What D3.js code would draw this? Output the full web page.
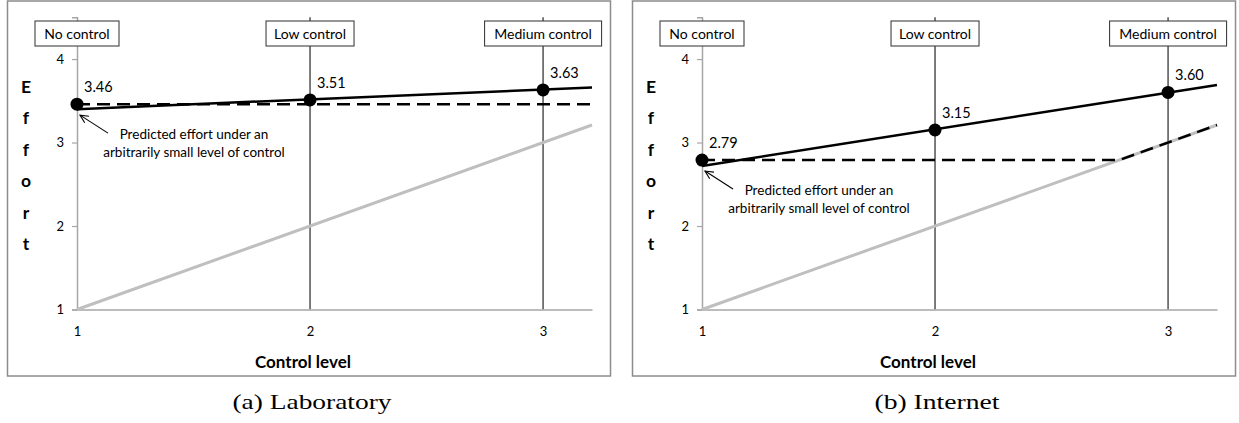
<!DOCTYPE html>
<html>
<head>
<meta charset="utf-8">
<script src="https://cdn.jsdelivr.net/npm/d3@7/dist/d3.min.js"></script>
<style>
  html, body { margin: 0; padding: 0; background: #fff; }
  svg { display: block; }
  .sans { font-family: Lato, "Open Sans", "Noto Sans", sans-serif; }
</style>
</head>
<body>
<svg id="chart" width="1239" height="423"></svg>
<script>
// Control levels on the x axis and the names shown above each level
const controlLevels = [1, 2, 3];
const levelNames = ["No control", "Low control", "Medium control"];
const xTicks = [1, 2, 3];
const yTicks = [1, 2, 3, 4];

// Mean effort at each control level
const labMeans = [3.46, 3.51, 3.63];
const netMeans = [2.79, 3.15, 3.60];

// Fitted effort line, at x = 1 and at the right end of the axis
const labFit = [3.40, 3.66];
const netFit = [2.72, 3.69];

// Axis extents
const xDomain = [1, 3.21];
const yDomain = [1, 4.5];

const captions = ["(a) Laboratory", "(b) Internet"];
const captionWidths = [159, 125];
const yTitle = "Effort";
const xTitle = "Control level";
const noteLines = ["Predicted effort under an", "arbitrarily small level of control"];

const svg = d3.select("#chart");

function drawPanel(idx, offsetX, means, fit) {
  const g = svg.append("g").attr("transform", `translate(${offsetX},0)`);

  // frame
  g.append("rect")
    .attr("x", 7.5).attr("y", 1).attr("width", 603).attr("height", 375)
    .attr("fill", "#fff").attr("stroke", "#8c8c8c").attr("stroke-width", 1.5);

  const x = d3.scaleLinear().domain(xDomain).range([77, 592]);
  const y = d3.scaleLinear().domain(yDomain).range([309.5, 17.3]);

  // guide lines at the control levels 2 and 3
  g.selectAll("line.level").data(controlLevels.slice(1)).join("line")
    .attr("class", "level")
    .attr("x1", d => x(d)).attr("x2", d => x(d))
    .attr("y1", y(yDomain[1])).attr("y2", y(yDomain[0]))
    .attr("stroke", "#262626").attr("stroke-width", 1.2);

  // y axis
  const yAxis = d3.axisLeft(y).tickValues(yTicks).tickSize(5).tickPadding(8).tickFormat(d3.format("d"));
  const ya = g.append("g").attr("transform", `translate(${x(1)},0)`).call(yAxis);
  ya.select(".domain").attr("stroke", "#a6a6a6").attr("stroke-width", 1.5);
  ya.selectAll(".tick line").attr("stroke", "#a6a6a6").attr("stroke-width", 1.2);
  ya.selectAll(".tick text").attr("class", "sans").style("font-size", "13px").attr("fill", "#000");

  // x axis
  const xAxis = d3.axisBottom(x).tickValues(xTicks).tickSize(0).tickPadding(17).tickFormat(d3.format("d"));
  const xa = g.append("g").attr("transform", `translate(0,${y(1)})`).call(xAxis);
  xa.select(".domain").attr("stroke", "#a6a6a6").attr("stroke-width", 1.5);
  xa.selectAll(".tick text").attr("class", "sans").style("font-size", "13px").attr("fill", "#000");

  const line = d3.line().x(d => x(d[0])).y(d => y(d[1]));

  // effort equal to control level
  g.append("path")
    .datum([[xDomain[0], xDomain[0]], [xDomain[1], xDomain[1]]])
    .attr("d", line).attr("fill", "none")
    .attr("stroke", "#bfbfbf").attr("stroke-width", 3);

  // predicted effort: the larger of the no-control effort and the control level
  const base = means[0];
  const pred = [[xDomain[0], base]];
  if (base < xDomain[1]) { pred.push([base, base]); pred.push([xDomain[1], xDomain[1]]); }
  else pred.push([xDomain[1], base]);
  g.append("path")
    .datum(pred)
    .attr("d", line).attr("fill", "none")
    .attr("stroke", "#000").attr("stroke-width", 2.5)
    .attr("stroke-dasharray", "13,7");

  // fitted effort
  g.append("path")
    .datum([[xDomain[0], fit[0]], [xDomain[1], fit[1]]])
    .attr("d", line).attr("fill", "none")
    .attr("stroke", "#000").attr("stroke-width", 2.5);

  // means
  g.selectAll("circle.mean").data(means).join("circle")
    .attr("class", "mean")
    .attr("cx", (d, i) => x(controlLevels[i])).attr("cy", d => y(d))
    .attr("r", 6.5).attr("fill", "#000");

  g.selectAll("text.val").data(means).join("text")
    .attr("class", "val sans")
    .attr("x", (d, i) => x(controlLevels[i]) + 7).attr("y", d => y(d) - 12)
    .attr("font-size", 14.5).attr("fill", "#000")
    .text(d => d.toFixed(2));

  // level name boxes
  const boxW = [84, 88, 117];
  const boxes = g.selectAll("g.lbl").data(levelNames).join("g")
    .attr("class", "lbl")
    .attr("transform", (d, i) => `translate(${x(controlLevels[i])},0)`);
  boxes.append("rect")
    .attr("x", (d, i) => -boxW[i] / 2).attr("y", 21).attr("width", (d, i) => boxW[i]).attr("height", 25)
    .attr("fill", "#fff").attr("stroke", "#404040").attr("stroke-width", 1.1);
  boxes.append("text")
    .attr("class", "sans").attr("text-anchor", "middle").attr("y", 39)
    .attr("font-size", 14).attr("fill", "#000")
    .text(d => d);

  // note with arrow pointing at the no-control mean
  const px = x(controlLevels[0]), py = y(means[0]);
  const hx = px + 3, hy = py + 11, tx = px + 31, ty = py + 29;
  const ang = Math.atan2(ty - hy, tx - hx);
  const headLen = 9, spread = 0.45;
  g.append("line")
    .attr("x1", hx).attr("y1", hy).attr("x2", tx).attr("y2", ty)
    .attr("stroke", "#000").attr("stroke-width", 1.1);
  g.append("path")
    .attr("d", `M${hx + headLen * Math.cos(ang - spread)},${hy + headLen * Math.sin(ang - spread)}L${hx},${hy}L${hx + headLen * Math.cos(ang + spread)},${hy + headLen * Math.sin(ang + spread)}`)
    .attr("fill", "none").attr("stroke", "#000").attr("stroke-width", 1.1);
  g.selectAll("text.note").data(noteLines).join("text")
    .attr("class", "note sans").attr("text-anchor", "middle")
    .attr("x", 194).attr("y", (d, i) => py + 35 + i * 18)
    .attr("font-size", 13.5).attr("fill", "#000")
    .text(d => d);

  // y title, one letter per line
  g.selectAll("text.ytitle").data(yTitle.split("")).join("text")
    .attr("class", "ytitle sans").attr("text-anchor", "middle")
    .attr("x", 26).attr("y", (d, i) => 93 + i * 31.4)
    .attr("font-size", 17.5).attr("font-weight", "bold").attr("fill", "#000")
    .text(d => d);

  // x title
  g.append("text")
    .attr("class", "sans").attr("text-anchor", "middle")
    .attr("x", 303).attr("y", 368)
    .attr("font-size", 17).attr("font-weight", "bold").attr("fill", "#000")
    .text(xTitle);

  // caption
  g.append("text")
    .attr("x", 312 - captionWidths[idx] / 2).attr("y", 409)
    .attr("font-family", "'Liberation Serif', 'DejaVu Serif', serif")
    .attr("font-size", 21).attr("fill", "#000")
    .attr("textLength", captionWidths[idx]).attr("lengthAdjust", "spacingAndGlyphs")
    .text(captions[idx]);
}

drawPanel(0, 0, labMeans, labFit);
drawPanel(1, 625, netMeans, netFit);
</script>
</body>
</html>
